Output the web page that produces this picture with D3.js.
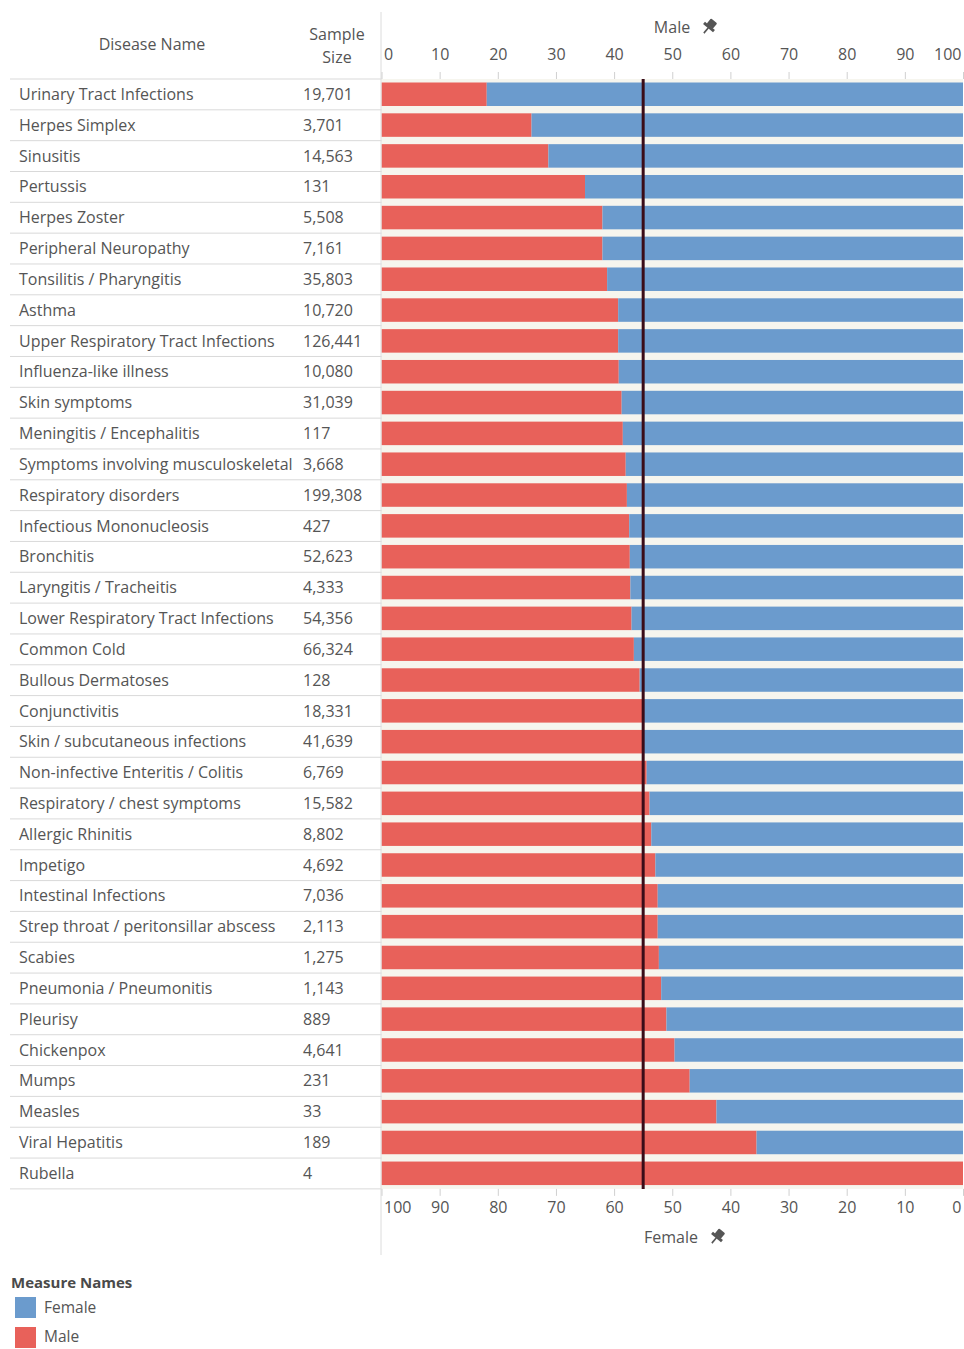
<!DOCTYPE html>
<html><head><meta charset="utf-8">
<script src="https://cdn.jsdelivr.net/npm/d3@7"></script>
<style>
html,body{margin:0;padding:0;background:#fff;}
svg{display:block;}
text{font-family:"Open Sans","Noto Sans",sans-serif;}
</style></head>
<body>
<svg id="chart" width="964" height="1349"></svg>
<script>
const diseases = ["Urinary Tract Infections","Herpes Simplex","Sinusitis","Pertussis","Herpes Zoster","Peripheral Neuropathy","Tonsilitis / Pharyngitis","Asthma","Upper Respiratory Tract Infections","Influenza-like illness","Skin symptoms","Meningitis / Encephalitis","Symptoms involving musculoskeletal","Respiratory disorders","Infectious Mononucleosis","Bronchitis","Laryngitis / Tracheitis","Lower Respiratory Tract Infections","Common Cold","Bullous Dermatoses","Conjunctivitis","Skin / subcutaneous infections","Non-infective Enteritis / Colitis","Respiratory / chest symptoms","Allergic Rhinitis","Impetigo","Intestinal Infections","Strep throat / peritonsillar abscess","Scabies","Pneumonia / Pneumonitis","Pleurisy","Chickenpox","Mumps","Measles","Viral Hepatitis","Rubella"];
const sampleSizes = ["19,701","3,701","14,563","131","5,508","7,161","35,803","10,720","126,441","10,080","31,039","117","3,668","199,308","427","52,623","4,333","54,356","66,324","128","18,331","41,639","6,769","15,582","8,802","4,692","7,036","2,113","1,275","1,143","889","4,641","231","33","189","4"];
const malePct = [18.1,25.8,28.7,35.0,38.0,38.0,38.8,40.7,40.7,40.8,41.3,41.5,42.0,42.2,42.6,42.7,42.8,43.0,43.4,44.4,44.8,45.1,45.6,46.1,46.4,47.1,47.5,47.5,47.7,48.1,49.0,50.4,53.0,57.6,64.5,100];
const femalePct = malePct.map(m => +(100 - m).toFixed(1));
const referenceLine = 45;
const maleTicks = [0,10,20,30,40,50,60,70,80,90,100];
const femaleTicks = [100,90,80,70,60,50,40,30,20,10,0];

const data = diseases.map((d,i)=>({name:d, size:sampleSizes[i], male:malePct[i], female:femalePct[i]}));

const svg = d3.select("#chart");
const X0 = 381.5, X1 = 963;
const Y0 = 79, STEP = 30.83;
const xM = d3.scaleLinear().domain([0,100]).range([X0,X1]);
const xF = d3.scaleLinear().domain([100,0]).range([X0,X1]);
const y = d3.scaleBand().domain(diseases).range([Y0, Y0 + STEP*diseases.length]).paddingInner(0).paddingOuter(0);
const Y1 = Y0 + STEP*diseases.length;

const RED = "#e8615a", BLUE = "#6b9bcd", TXT = "#555";
const FS = "16px";

// chart area background
svg.append("rect").attr("x",X0).attr("y",Y0).attr("width",X1-X0).attr("height",Y1-Y0).attr("fill","#f6f5ee");

// row separators in table
const rows = svg.append("g");
d3.range(diseases.length+1).forEach(i=>{
  const yy = Y0 + STEP*i;
  rows.append("line").attr("x1",10).attr("x2",X0).attr("y1",yy).attr("y2",yy).attr("stroke","#d9d9d9").attr("stroke-width",1);
});

// bars
const bars = svg.append("g");
bars.selectAll("rect.m").data(data).join("rect").attr("class","m")
  .attr("x",xM(0)).attr("y",d=>y(d.name)+3.5).attr("height",23.5)
  .attr("width",d=>xM(d.male)-xM(0)).attr("fill",RED);
bars.selectAll("rect.f").data(data).join("rect").attr("class","f")
  .attr("x",d=>xF(d.female)).attr("y",d=>y(d.name)+3.5).attr("height",23.5)
  .attr("width",d=>xF(0)-xF(d.female)).attr("fill",BLUE);

// reference line
svg.append("line").attr("x1",xM(referenceLine)).attr("x2",xM(referenceLine))
  .attr("y1",Y0).attr("y2",Y1).attr("stroke","#3a0c18").attr("stroke-width",3);

// left border of chart
svg.append("line").attr("x1",X0-0.5).attr("x2",X0-0.5).attr("y1",12).attr("y2",1255).attr("stroke","#dcdcdc");

// table text
const tbl = svg.append("g").attr("font-size",FS).attr("fill",TXT);
tbl.selectAll("text.n").data(data).join("text").attr("class","n")
  .attr("x",19).attr("y",d=>y(d.name)+STEP/2+5.5).text(d=>d.name);
tbl.selectAll("text.s").data(data).join("text").attr("class","s")
  .attr("x",303).attr("y",d=>y(d.name)+STEP/2+5.5).text(d=>d.size);

// headers
svg.append("text").attr("x",152).attr("y",50).attr("text-anchor","middle").attr("font-size",FS).attr("fill",TXT).text("Disease Name");
svg.append("text").attr("x",337).attr("y",40).attr("text-anchor","middle").attr("font-size",FS).attr("fill",TXT).text("Sample");
svg.append("text").attr("x",337).attr("y",63).attr("text-anchor","middle").attr("font-size",FS).attr("fill",TXT).text("Size");

// axes
function styleAxis(g){
  g.select(".domain").remove();
  g.selectAll(".tick line").attr("stroke","#d0d0d0");
  g.selectAll(".tick text").attr("fill",TXT).attr("font-size",FS).attr("font-family",'"Open Sans","Noto Sans",sans-serif');
  const tt = g.selectAll(".tick text").nodes();
  d3.select(tt[0]).attr("text-anchor","start").attr("dx",2);
  d3.select(tt[tt.length-1]).attr("text-anchor","end").attr("dx",-2);
}
const topAxis = svg.append("g").attr("transform",`translate(0,${Y0})`)
  .call(d3.axisTop(xM).tickValues(maleTicks).tickSize(7).tickPadding(12));
styleAxis(topAxis);
const botAxis = svg.append("g").attr("transform",`translate(0,${Y1})`)
  .call(d3.axisBottom(xF).tickValues(femaleTicks).tickSize(7).tickPadding(6));
styleAxis(botAxis);

// pin icon
function pin(x, yy){
  const g = svg.append("g").attr("transform",`translate(${x},${yy}) rotate(40)`).attr("fill","#555");
  g.append("rect").attr("x",-4).attr("y",-8).attr("width",8).attr("height",7).attr("rx",1);
  g.append("rect").attr("x",-6.5).attr("y",-1.5).attr("width",13).attr("height",3);
  g.append("rect").attr("x",-0.8).attr("y",1).attr("width",1.6).attr("height",7);
}
svg.append("text").attr("x",672).attr("y",33).attr("text-anchor","middle").attr("font-size",FS).attr("fill",TXT).text("Male");
pin(709,27);
svg.append("text").attr("x",671).attr("y",1243).attr("text-anchor","middle").attr("font-size",FS).attr("fill",TXT).text("Female");
pin(717,1237);

// legend
const lg = svg.append("g");
lg.append("text").attr("x",11).attr("y",1288).attr("font-size","15px").attr("font-weight","bold").attr("fill","#4a4a4a").text("Measure Names");
const legendItems = [{k:"Female",c:BLUE},{k:"Male",c:RED}];
legendItems.forEach((it,i)=>{
  lg.append("rect").attr("x",15).attr("y",1297+i*30).attr("width",21).attr("height",21).attr("fill",it.c);
  lg.append("text").attr("x",44).attr("y",1313+i*29).attr("font-size","15.5px").attr("fill",TXT).text(it.k);
});
</script>
</body></html>
